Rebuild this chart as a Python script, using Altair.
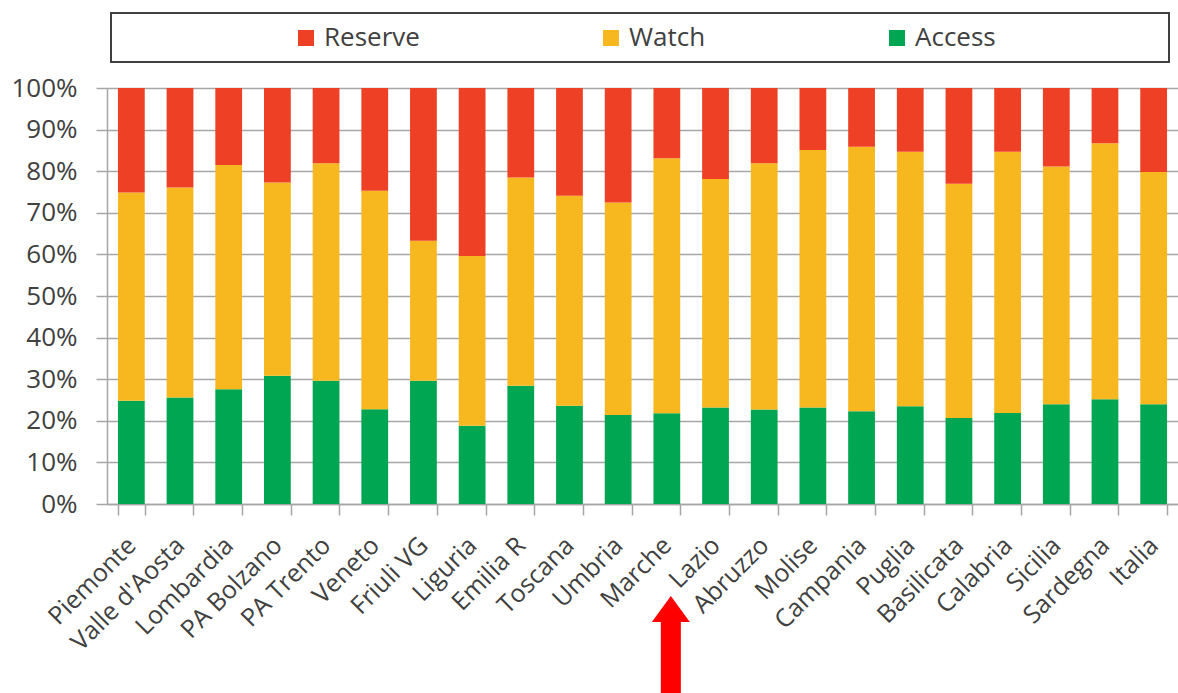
import altair as alt
import pandas as pd

regions = ["Piemonte", "Valle d'Aosta", "Lombardia", "PA Bolzano", "PA Trento", "Veneto",
           "Friuli VG", "Liguria", "Emilia R", "Toscana", "Umbria", "Marche", "Lazio",
           "Abruzzo", "Molise", "Campania", "Puglia", "Basilicata", "Calabria", "Sicilia",
           "Sardegna", "Italia"]
access = [24.8, 25.6, 27.6, 30.8, 29.6, 22.8, 29.6, 18.8, 28.4, 23.6, 21.4, 21.8, 23.2,
          22.7, 23.2, 22.3, 23.5, 20.7, 21.9, 24.0, 25.2, 24.0]
watch = [50.1, 50.5, 53.9, 46.5, 52.3, 52.5, 33.7, 40.8, 50.1, 50.5, 51.1, 61.3, 54.9,
         59.2, 61.9, 63.6, 61.2, 56.3, 62.8, 57.1, 61.5, 55.8]
reserve = [25.1, 23.9, 18.5, 22.7, 18.1, 24.7, 36.7, 40.4, 21.5, 25.9, 27.5, 16.9, 21.9,
           18.1, 14.9, 14.1, 15.3, 23.0, 15.3, 18.9, 13.3, 20.2]
categories = ["Reserve", "Watch", "Access"]
colors = ["#EE4024", "#F6B81E", "#00A651"]
stack_rank = {"Access": 0, "Watch": 1, "Reserve": 2}
highlighted = ["Marche"]

rows = []
for i, r in enumerate(regions):
    for cat, vals in (("Access", access), ("Watch", watch), ("Reserve", reserve)):
        rows.append({"Region": r, "Category": cat, "Value": vals[i], "ord": stack_rank[cat]})
df = pd.DataFrame(rows)

FONT = "Open Sans"
GRID = "#A6A6A6"
TXT = "#404040"

bars = alt.Chart(df).mark_bar().encode(
    x=alt.X("Region:N", sort=regions, title=None,
            scale=alt.Scale(paddingInner=0.45, paddingOuter=0.225),
            axis=alt.Axis(labelAngle=315, labelAlign="right", labelBaseline="middle",
                          labelFontSize=25, labelColor=TXT, labelPadding=26,
                          tickSize=11, tickColor=GRID, tickWidth=1.5, tickBand="extent",
                          domainColor=GRID, domainWidth=1.5, grid=False)),
    y=alt.Y("Value:Q", stack="zero", title=None,
            scale=alt.Scale(domain=[0, 100], nice=False),
            axis=alt.Axis(values=list(range(0, 101, 10)), labelExpr="datum.value + '%'",
                          labelFontSize=26, labelColor=TXT, labelPadding=19,
                          tickSize=11, tickColor=GRID, tickWidth=1.5,
                          grid=True, gridColor=GRID, gridWidth=1.5,
                          domainColor=GRID, domainWidth=1.5)),
    color=alt.Color("Category:N", scale=alt.Scale(domain=categories, range=colors),
                    legend=alt.Legend(title=None, orient="none", direction="horizontal",
                                      legendX=186, legendY=-63, symbolType="square",
                                      symbolSize=256, symbolStrokeWidth=0,
                                      labelFontSize=26, labelColor=TXT, labelOffset=5,
                                      columnPadding=178, padding=0)),
    order=alt.Order("ord:Q"),
)

box = alt.Chart(pd.DataFrame({"k": [0]})).mark_rect(
    fillOpacity=0, stroke="#404040", strokeWidth=2
).encode(x=alt.value(4), x2=alt.value(1062), y=alt.value(-75), y2=alt.value(-26))

arrow_df = pd.DataFrame({"Region": highlighted})
shaft = alt.Chart(arrow_df).mark_rule(color="#FF0000", strokeWidth=20, xOffset=4).encode(
    x=alt.X("Region:N", sort=regions), y=alt.value(534), y2=alt.value(606))
head = alt.Chart(arrow_df).mark_point(
    shape="M-1,0.684L0,-0.684L1,0.684Z", size=1444, filled=True, color="#FF0000",
    opacity=1, xOffset=4
).encode(x=alt.X("Region:N", sort=regions), y=alt.value(521))

chart = alt.layer(box, bars, shaft, head).properties(
    width=1071, height=416,
    autosize=alt.AutoSizeParams(type="none"),
    padding={"left": 107, "top": 88, "right": 0, "bottom": 189},
).configure(font=FONT).configure_view(stroke=None)

chart.save("out.html", embed_options={"renderer": "svg", "actions": False})
